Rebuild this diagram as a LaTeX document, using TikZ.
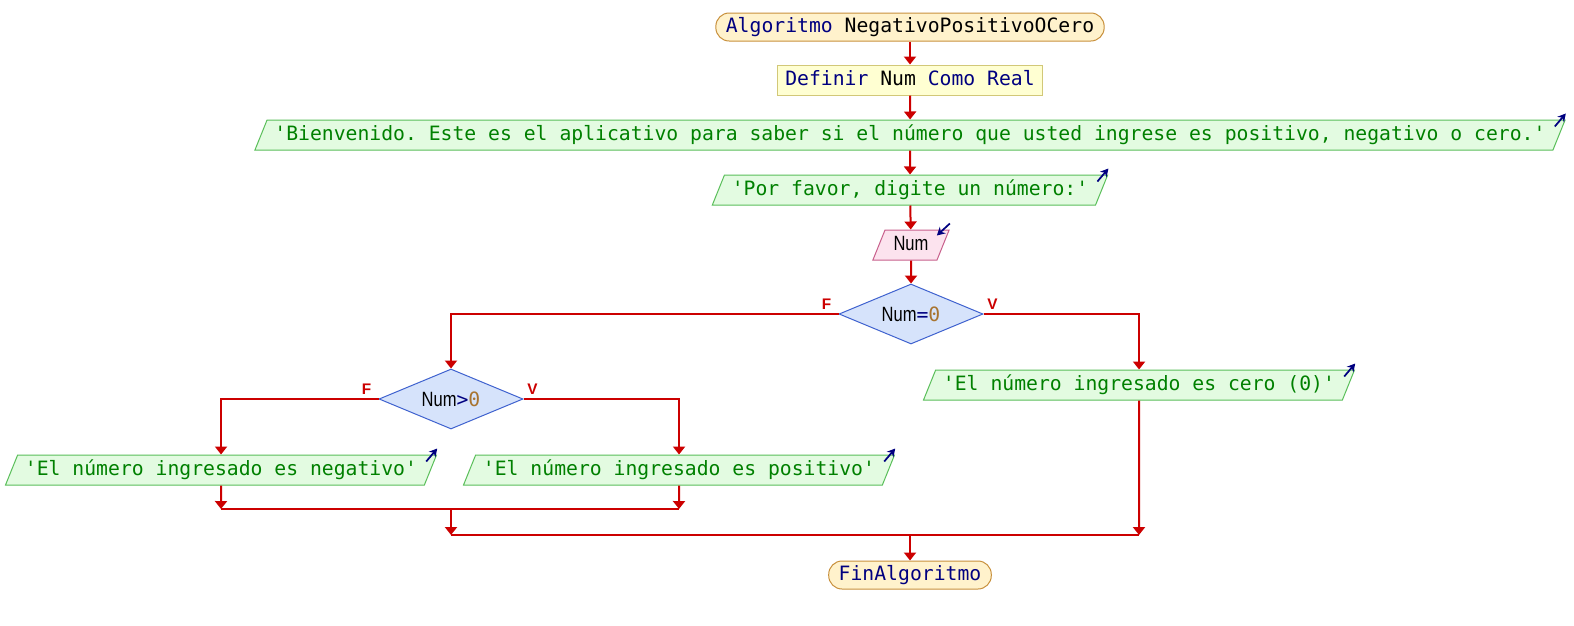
\documentclass[tikz,border=0pt]{standalone}
\usepackage{xcolor}
\usepackage{fontspec}
\setmonofont{DejaVu Sans Mono}
\setsansfont{Liberation Sans}
\newfontfamily\numfont[FakeStretch=0.8]{Liberation Sans}
\usetikzlibrary{shapes.geometric,arrows.meta}
\definecolor{flujo}{HTML}{CC0000}
\definecolor{kw}{HTML}{000080}
\definecolor{numc}{HTML}{A87430}
\definecolor{term}{HTML}{FFF2CC}
\definecolor{termdk}{HTML}{C8903C}
\definecolor{defn}{HTML}{FFFFD2}
\definecolor{defndk}{HTML}{D2C878}
\definecolor{sal}{HTML}{E3FBE1}
\definecolor{saldk}{HTML}{5ABF5A}
\definecolor{saltx}{HTML}{008000}
\definecolor{ent}{HTML}{FCE3EE}
\definecolor{entdk}{HTML}{C8608C}
\definecolor{dec}{HTML}{D6E3FB}
\definecolor{decdk}{HTML}{3F62CF}
\tikzset{
  base/.style={font=\ttfamily\fontsize{14.8}{16}\selectfont,text height=11pt,text depth=3.5pt,
    inner ysep=4pt,inner xsep=5.5pt,line width=.75pt},
  terminal/.style={base,rectangle,rounded corners=10pt,draw=termdk,fill=term,text=kw,inner ysep=3.25pt,inner xsep=7.5pt},
  defbox/.style={base,rectangle,draw=defndk,fill=defn,text=kw},
  salida/.style={base,trapezium,trapezium left angle=68,trapezium right angle=112,draw=saldk,fill=sal,text=saltx},
  entrada/.style={salida,draw=entdk,fill=ent,text=black,inner xsep=6.4pt},
  decision/.style={diamond,aspect=2.4,draw=decdk,fill=dec,line width=.75pt,minimum width=108pt,minimum height=45pt,
    inner sep=0pt,font=\fontsize{14.8}{16}\selectfont},
  flecha/.style={draw=flujo,line width=1.5pt,-{Triangle[length=6pt,width=9pt]}},
  linea/.style={draw=flujo,line width=1.5pt},
  icono/.style={draw=kw,line width=1.3pt,-{Stealth[length=6pt,width=6.5pt]}},
  etiq/.style={font=\sffamily\bfseries\fontsize{11.5}{13}\selectfont,text=flujo,inner sep=0pt}
}

\begin{document}
\begin{tikzpicture}[x=.75pt,y=-.75pt]
  \fill[white](0,0) rectangle (1574,625);
  \useasboundingbox (0,0) rectangle (1574,625);

  \node[terminal] (inicio) at (910,27) {Algoritmo {\color{black}NegativoPositivoOCero}};
  \node[defbox] (definir) at (910,80) {Definir {\color{black}Num} Como Real};
  \node[salida] (bien) at (910,135) {'Bienvenido. Este es el aplicativo para saber si el número que usted ingrese es positivo, negativo o cero.'};
  \node[salida] (favor) at (910,190) {'Por favor, digite un número:'};
  \node[entrada] (leer) at (911,245) {\fontsize{15.5}{16}\numfont Num};
  \node[decision] (cond1) at (911,314) {{\fontsize{15.5}{16}\numfont Num}\texttt{\color{kw}=}\texttt{\color{numc}0}};
  \node[salida] (cero) at (1139,385) {'El número ingresado es cero (0)'};
  \node[decision] (cond2) at (451,399) {{\fontsize{15.5}{16}\numfont Num}\texttt{\color{kw}>}\texttt{\color{numc}0}};
  \node[salida] (neg) at (221,470) {'El número ingresado es negativo'};
  \node[salida] (pos) at (679,470) {'El número ingresado es positivo'};
  \node[terminal] (fin) at (910,575) {FinAlgoritmo};
  \coordinate (j1) at (451,509);
  \coordinate (j2) at (910,535);

  \node[etiq] at ([shift={(-12,-10)}]cond1.west) {F};
  \node[etiq] at ([shift={(9,-10)}]cond1.east) {V};
  \node[etiq] at ([shift={(-12,-10)}]cond2.west) {F};
  \node[etiq] at ([shift={(9,-10)}]cond2.east) {V};

  \draw[flecha](inicio)--(definir);
  \draw[flecha](definir)--(bien);
  \draw[flecha](bien)--(favor);
  \draw[flecha](favor)--(leer);
  \draw[flecha](leer)--(cond1);
  \draw[flecha](cond1.west)-|(cond2.north);
  \draw[flecha](cond1.east)-|(cero.north);
  \draw[flecha](cond2.west)-|(neg.north);
  \draw[flecha](cond2.east)-|(pos.north);
  \draw[flecha](neg)--(neg|-j1);
  \draw[flecha](pos)--(pos|-j1);
  \draw[linea](neg|-j1)--(pos|-j1);
  \draw[flecha](j1)--(j1|-j2);
  \draw[flecha](cero)--(cero|-j2);
  \draw[linea](j1|-j2)--(cero|-j2);
  \draw[flecha](j2)--(fin);

  \draw[icono]([shift={(-11,7)}]bien.top right corner)--([shift={(0,-6)}]bien.top right corner);
  \draw[icono]([shift={(-11,7)}]favor.top right corner)--([shift={(0,-6)}]favor.top right corner);
  \draw[icono]([shift={(0,-6)}]leer.top right corner)--([shift={(-13,6)}]leer.top right corner);
  \draw[icono]([shift={(-11,7)}]cero.top right corner)--([shift={(0,-6)}]cero.top right corner);
  \draw[icono]([shift={(-11,7)}]neg.top right corner)--([shift={(0,-6)}]neg.top right corner);
  \draw[icono]([shift={(-11,7)}]pos.top right corner)--([shift={(0,-6)}]pos.top right corner);
\end{tikzpicture}
\end{document}
